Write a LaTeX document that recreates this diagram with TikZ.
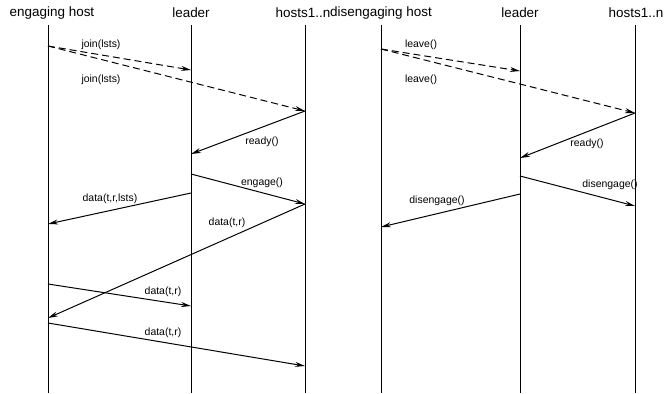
\documentclass[tikz,border=0pt]{standalone}
\usepackage{fontspec}
\setmainfont{Liberation Sans}
\usetikzlibrary{arrows.meta,positioning}
\tikzset{every node/.style={inner sep=1pt},
head/.style={font=\fontsize{13.5}{15}\selectfont},
life/.style={line width=1pt},
msg/.style={-{Stealth[length=10pt,width=5pt]}, line width=1pt},
async/.style={msg, dash pattern=on 7pt off 4pt},
lbl/.style={font=\fontsize{10.5}{12}\selectfont}
}

\begin{document}
\begin{tikzpicture}[x=1bp, y=-1bp]
        \useasboundingbox (0,0) rectangle (664,393);

        % engaging
        \node[head] (eng) at (52,13)  {engaging host};
        \node[head] (ldA) at (191,13) {leader};
        \node[head] (hsA) at (303,13) {hosts1..n};
        % disengaging
        \node[head] (dis) at (381,13) {disengaging host};
        \node[head] (ldB) at (520,13) {leader};
        \node[head] (hsB) at (636,13) {hosts1..n};

        \foreach \x/\n in {48/e, 191/la, 305/ha, 381/d, 520/lb, 635/hb} {
            \coordinate (\n top) at (\x,25);
            \coordinate (\n bot) at (\x,393);
            \draw[life] (\n top) -- (\n bot);
        }

        % messages, engaging host
        \coordinate (e1) at (48,46);
        \coordinate (la1) at (191,70);
        \coordinate (ha1) at (305,111);
        \coordinate (la2) at (191,154);
        \coordinate (la3) at (191,174);
        \coordinate (ha2) at (305,204);
        \coordinate (la4) at (191,193);
        \coordinate (e2) at (48,224);
        \coordinate (e3) at (48,318);
        \coordinate (e4) at (48,284);
        \coordinate (la5) at (191,306);
        \coordinate (e5) at (48,323);
        \coordinate (ha3) at (305,366);

        \draw[async] (e1) -- (la1);
        \draw[async] (e1) -- (ha1);
        \draw[msg] (ha1) -- (la2);
        \draw[msg] (la3) -- (ha2);
        \draw[msg] (la4) -- (e2);
        \draw[msg] (ha2) -- (e3);
        \draw[msg] (e4) -- (la5);
        \draw[msg] (e5) -- (ha3);

        \node[lbl] (j1) at (101,45)  {join(lsts)};
        \node[lbl] (j2) at (101,80)  {join(lsts)};
        \node[lbl] (r1) at (262,142) {ready()};
        \node[lbl] (g1) at (262,183) {engage()};
        \node[lbl] (t1) at (110,199) {data(t,r,lsts)};
        \node[lbl] (t2) at (227,223) {data(t,r)};
        \node[lbl] (t3) at (163,292) {data(t,r)};
        \node[lbl] (t4) at (163,333) {data(t,r)};

        % messages, disengaging host
        \coordinate (d1) at (381,49);
        \coordinate (lb1) at (520,71);
        \coordinate (hb1) at (635,113);
        \coordinate (lb2) at (520,158);
        \coordinate (lb3) at (520,176);
        \coordinate (hb2) at (635,206);
        \coordinate (lb4) at (520,194);
        \coordinate (d2) at (381,227);

        \draw[async] (d1) -- (lb1);
        \draw[async] (d1) -- (hb1);
        \draw[msg] (hb1) -- (lb2);
        \draw[msg] (lb3) -- (hb2);
        \draw[msg] (lb4) -- (d2);

        \node[lbl] (v1) at (421,45)  {leave()};
        \node[lbl] (v2) at (421,80)  {leave()};
        \node[lbl] (r2) at (587,144) {ready()};
        \node[lbl] (g2) at (610,185) {disengage()};
        \node[lbl] (g3) at (437,201) {disengage()};
      \end{tikzpicture}
\end{document}
